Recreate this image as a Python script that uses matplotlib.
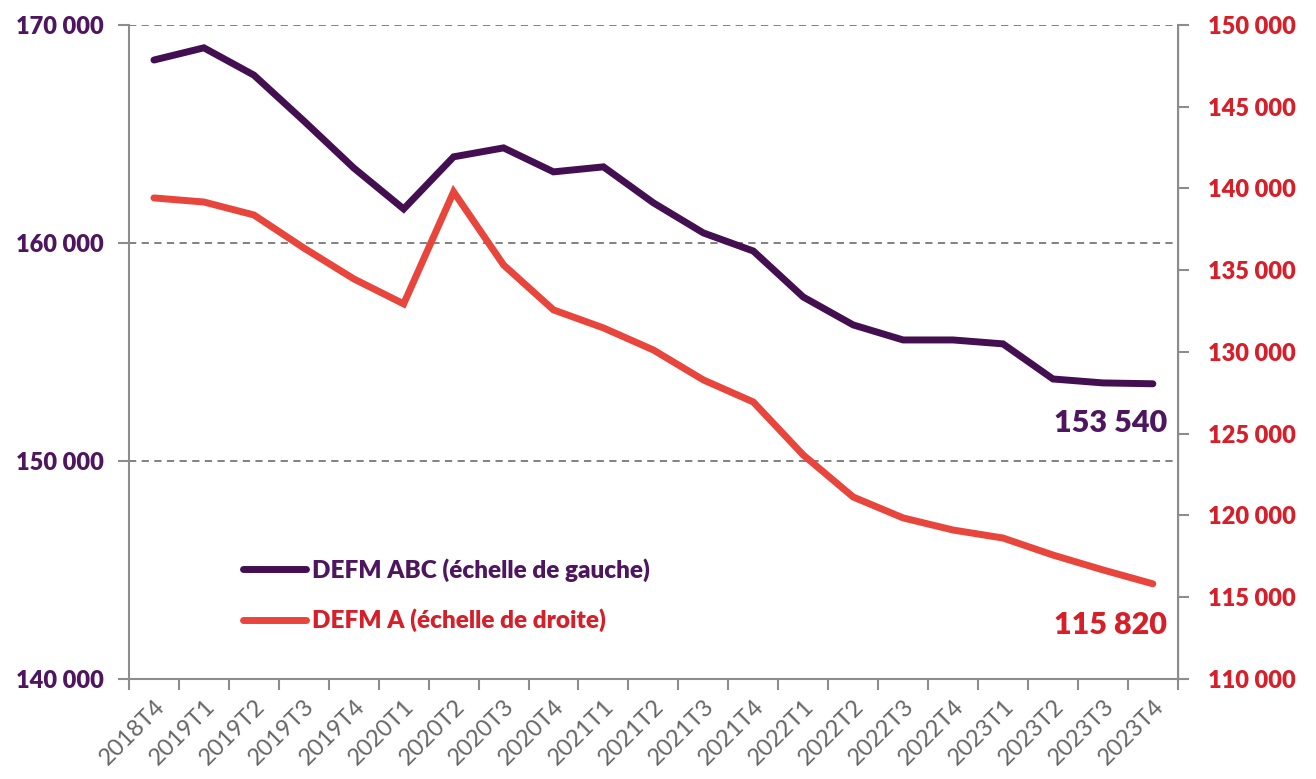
import matplotlib
matplotlib.use("Agg")
import matplotlib.pyplot as plt
from matplotlib.ticker import FixedLocator

plt.rcParams['font.family'] = ['Lato', 'DejaVu Sans']

quarters = ["2018T4", "2019T1", "2019T2", "2019T3", "2019T4", "2020T1", "2020T2",
            "2020T3", "2020T4", "2021T1", "2021T2", "2021T3", "2021T4", "2022T1",
            "2022T2", "2022T3", "2022T4", "2023T1", "2023T2", "2023T3", "2023T4"]

# DEFM ABC (left scale)
defm_abc = [168390, 168950, 167700, 165600, 163440, 161560, 163950, 164360, 163260,
            163490, 161840, 160460, 159630, 157520, 156240, 155550, 155550, 155370,
            153760, 153580, 153540]

# DEFM A (right scale)
defm_a = [139420, 139170, 138380, 136360, 134470, 132940, 139790, 135320, 132570,
          131470, 130120, 128290, 126940, 123700, 121130, 119850, 119110, 118620,
          117580, 116670, 115820]

left_ticks = [140000, 150000, 160000, 170000]
right_ticks = [110000, 115000, 120000, 125000, 130000, 135000, 140000, 145000, 150000]

purple = "#430F50"
purple_txt = "#4F1660"
red = "#E8453C"
red_txt = "#D71F2A"
grey = "#8C8C8C"


def fmt(v):
    return f"{int(v):,}".replace(",", " ")


fig = plt.figure(figsize=(13.16, 7.79), dpi=100)
ax = fig.add_axes([0.098, 0.1284, 0.797, 0.8396])
ax2 = ax.twinx()

x = list(range(len(quarters)))
l1, = ax.plot(x, defm_abc, color=purple, lw=5, solid_capstyle='round', solid_joinstyle='miter', zorder=3)
l2, = ax2.plot(x, defm_a, color=red, lw=5, solid_capstyle='round', solid_joinstyle='miter', zorder=3)

ax.set_xlim(-0.5, len(quarters) - 0.5)
ax.set_ylim(140000, 170000)
ax2.set_ylim(110000, 150000)

ax.tick_params(axis='y', color=grey, width=1.5, length=8, pad=10)
ax2.tick_params(axis='y', color=grey, width=1.5, length=8, pad=14)
ax.set_yticks(left_ticks, labels=[fmt(v) for v in left_ticks])
ax2.set_yticks(right_ticks, labels=[fmt(v) for v in right_ticks])

for y in [150000, 160000, 170000]:
    ax.axhline(y, color="#777777", lw=1.3, ls=(0, (4, 3)), zorder=1)

ax.spines["top"].set_visible(False)
ax2.spines["top"].set_visible(False)
for sp in [ax.spines["left"], ax.spines["bottom"], ax2.spines["right"]]:
    sp.set_color(grey)
    sp.set_linewidth(1.5)
ax2.spines["left"].set_visible(False)
ax2.spines["bottom"].set_visible(False)

ax.set_xticks(x)
ax.set_xticklabels(quarters, rotation=45, ha='right', rotation_mode='anchor',
                   fontsize=17, color="#666666")
ax.tick_params(axis='x', which='major', length=0, pad=12)
ax.xaxis.set_minor_locator(FixedLocator([i - 0.5 for i in range(len(quarters) + 1)]))
ax.tick_params(axis='x', which='minor', length=8, width=1.5, color=grey)

ax.text(x[-1] + 0.28, defm_abc[-1] - 1800, "153 540", color=purple_txt, fontsize=22,
        fontweight='heavy', ha='right', va='center')
ax2.text(x[-1] + 0.28, defm_a[-1] - 2500, "115 820", color=red_txt, fontsize=22,
         fontweight='heavy', ha='right', va='center')

leg = ax.legend([l1, l2], ["DEFM ABC (échelle de gauche)", "DEFM A (échelle de droite)"],
                loc='upper left', bbox_to_anchor=(0.088, 0.218), frameon=False,
                fontsize=17.5, handlelength=2.6, handletextpad=0.25, labelspacing=1.1)
for t, c in zip(leg.get_texts(), [purple_txt, red_txt]):
    t.set_color(c)
    t.set_fontweight('heavy')

fig.canvas.draw()
for t in ax.get_yticklabels():
    t.set_fontweight('heavy')
    t.set_fontsize(17)
    t.set_color(purple_txt)
for t in ax2.get_yticklabels():
    t.set_fontweight('heavy')
    t.set_fontsize(17)
    t.set_color(red_txt)

fig.savefig("out.png", dpi=100)
